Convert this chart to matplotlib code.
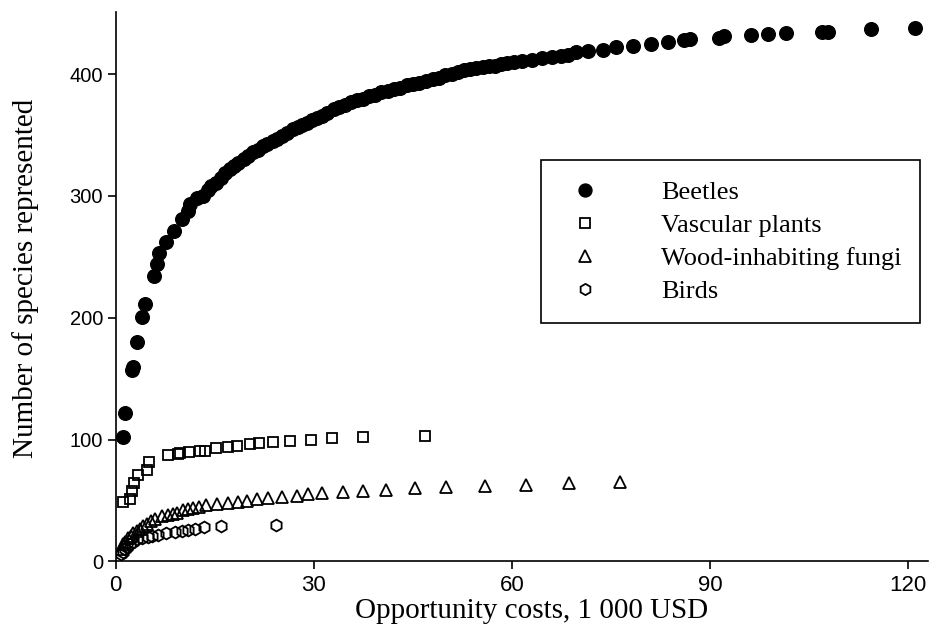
import matplotlib
matplotlib.use("Agg")
import matplotlib.pyplot as plt
from matplotlib import font_manager

# ---------------- data ----------------
beetle_x = [1.1, 1.5, 2.5, 2.7, 3.3, 4.0, 4.4, 5.8, 6.3, 6.6, 7.7, 8.9, 10.1, 10.9, 11.3,
            12.3, 13.2, 14.0, 14.5, 15.2, 15.9, 16.6, 17.3, 17.9, 18.6, 19.4, 20.1, 20.8,
            21.5, 22.3, 23.0, 23.8, 24.5, 25.2, 26.0, 26.9, 27.6, 28.3, 29.0, 29.8, 30.5,
            31.2, 32.0, 33.0, 33.8, 34.8, 35.7, 36.6, 37.5, 38.3, 39.3, 40.2, 41.2, 42.1,
            43.1, 44.1, 45.0, 46.0, 47.0, 48.0, 49.0, 49.9, 50.9, 51.8, 52.8, 53.7, 54.6,
            55.6, 56.5, 57.5, 58.3, 59.2, 60.3, 61.6, 63.0, 64.5, 66.0, 67.4, 68.5, 69.7,
            71.5, 73.8, 75.8, 78.4, 81.1, 83.7, 86.0, 86.9, 91.3, 92.1, 96.2, 98.8, 101.5,
            106.9, 107.9, 114.3, 121.0]
beetle_y = [102, 122, 157, 160, 180, 201, 211, 234, 244, 253, 262, 271, 281, 288, 293,
            298, 300, 305, 308, 311, 315, 319, 322, 325, 327, 330, 333, 336,
            338, 341, 343, 345, 347, 349, 352, 355, 357, 358, 360, 362, 364,
            366, 368, 371, 373, 375, 377, 379, 380, 382, 383, 385, 386, 388,
            389, 391, 392, 393, 394, 396, 397, 399, 400, 402, 403, 404, 405,
            406, 407, 407, 408, 409, 410, 411, 412, 413, 414, 415, 416, 418,
            419, 420, 422, 423, 425, 426, 428, 429, 430, 431, 432, 433, 434,
            435, 435, 437, 438]

plants_x = [1.2, 2.2, 2.5, 2.85, 3.35, 4.7, 5.1, 7.9, 9.4, 9.8, 11.1, 12.8, 13.5, 15.2,
            17.0, 18.4, 20.3, 21.7, 23.8, 26.4, 29.6, 32.8, 37.5, 46.8]
plants_y = [49, 51, 58, 64, 71, 75, 82, 87, 88, 89, 90, 91, 91, 93,
            94, 95, 96, 97, 98, 99, 100, 101, 102, 103]

fungi_x = [0.9, 1.2, 1.5, 1.9, 2.3, 2.7, 3.2, 3.7, 4.2, 4.7, 5.3, 6.0, 7.1, 8.0, 8.7,
           9.3, 10.2, 11.0, 11.8, 12.6, 13.7, 15.3, 17.0, 18.5, 19.9, 21.4, 23.1, 25.2,
           27.4, 29.2, 31.2, 34.5, 37.5, 40.9, 45.4, 50.0, 55.9, 62.1, 68.7, 76.3]
fungi_y = [10, 14, 16, 19, 21, 23, 25, 27, 29, 31, 33, 35, 37, 38, 39,
           40, 42, 43, 44, 45, 46, 47, 48, 49, 50, 51, 52, 53,
           54, 55, 56, 57, 58, 59, 60, 61, 62, 63, 64, 65]

birds_x = [0.9, 1.1, 1.4, 1.8, 2.2, 2.7, 3.3, 4.0, 4.9, 5.6, 6.4, 7.7, 9.0, 10.0,
           10.9, 12.1, 13.4, 16.0, 24.3]
birds_y = [6, 8, 10, 12, 14, 16, 18, 19, 20, 21, 22, 23, 24, 25,
           26, 27, 28, 29, 30]

series_names = ["Beetles", "Vascular plants", "Wood-inhabiting fungi", "Birds"]
x_ticks = [0, 30, 60, 90, 120]
y_ticks = [0, 100, 200, 300, 400]
x_label = "Opportunity costs, 1 000 USD"
y_label = "Number of species represented"

# ---------------- fonts ----------------
avail = {f.name for f in font_manager.fontManager.ttflist}
serif = "Liberation Serif" if "Liberation Serif" in avail else "DejaVu Serif"
sans = "Liberation Sans" if "Liberation Sans" in avail else "DejaVu Sans"
narrow = "Liberation Sans Narrow" if "Liberation Sans Narrow" in avail else sans

# ---------------- figure ----------------
fig = plt.figure(figsize=(9.30, 6.33), dpi=100)
ax = fig.add_axes([0.1242, 0.1131, 0.8737, 0.8679])

ax.plot(beetle_x, beetle_y, linestyle="none", marker="o", markersize=9.8,
        markerfacecolor="black", markeredgecolor="black", label=series_names[0])
ax.plot(plants_x, plants_y, linestyle="none", marker="s", markersize=7.5,
        markerfacecolor="none", markeredgecolor="black", markeredgewidth=1.3,
        label=series_names[1])
ax.plot(fungi_x, fungi_y, linestyle="none", marker="^", markersize=8.5,
        markerfacecolor="none", markeredgecolor="black", markeredgewidth=1.3,
        label=series_names[2])
ax.plot(birds_x, birds_y, linestyle="none", marker="h", markersize=8.5,
        markerfacecolor="none", markeredgecolor="black", markeredgewidth=1.3,
        label=series_names[3])

ax.set_xlim(0, 123)
ax.set_ylim(0, 451)
ax.set_xticks(x_ticks)
ax.set_yticks(y_ticks)
ax.spines["top"].set_visible(False)
ax.spines["right"].set_visible(False)
for s in ("left", "bottom"):
    ax.spines[s].set_linewidth(1.2)
ax.tick_params(direction="out", length=6, width=1.2)
ax.tick_params(axis="y", pad=3)
ax.tick_params(axis="x", pad=4)
for lab in ax.get_xticklabels():
    lab.set_fontfamily(narrow)
    lab.set_fontsize(16)
for lab in ax.get_yticklabels():
    lab.set_fontfamily(sans)
    lab.set_fontsize(14.5)

ax.set_xlabel(x_label, fontfamily=serif, fontsize=21)
ax.set_ylabel(y_label, fontfamily=serif, fontsize=21)
ax.xaxis.set_label_coords(0.5126, -0.066)
ax.xaxis.label.set_va("top")
ax.yaxis.set_label_coords(-0.094, 0.516)

leg = ax.legend(loc="upper left", bbox_to_anchor=(0.5237, 0.430, 0.4665, 0.3006),
                mode="expand", frameon=True, fancybox=False, shadow=False,
                prop={"family": serif, "size": 19}, markerscale=0.95,
                borderpad=0.77, labelspacing=0.36, handlelength=1.8,
                handletextpad=1.98, borderaxespad=0)
leg.get_frame().set_edgecolor("black")
leg.get_frame().set_linewidth(1.2)
leg.get_frame().set_facecolor("white")
leg.get_frame().set_alpha(1)

fig.savefig("out.png", dpi=100)
